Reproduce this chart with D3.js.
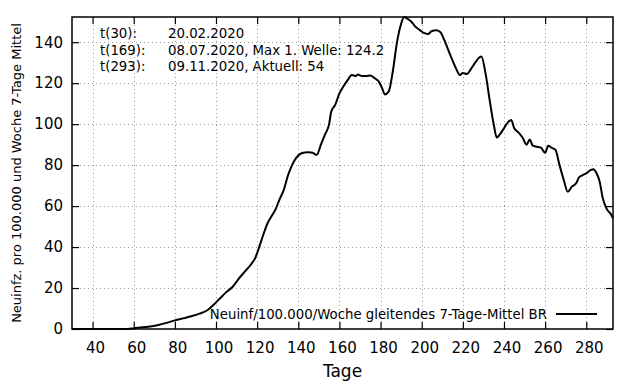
<!DOCTYPE html>
<html>
<head>
<meta charset="utf-8">
<script src="https://cdn.jsdelivr.net/npm/d3@7"></script>
<style>
  html, body { margin: 0; padding: 0; background: #fff; }
  svg { display: block; font-family: "DejaVu Sans", sans-serif; }
</style>
</head>
<body>
<div id="chart"></div>
<script>
// Tage (t) und Neuinfektionen pro 100.000/Woche, gleitendes 7-Tage-Mittel BR
const days = [30, 40, 50, 57, 60, 64, 68, 72, 76, 80, 84, 88, 92, 96, 99, 102, 105, 108, 111, 114,
  117, 119, 121, 123, 125, 127, 129, 131, 133, 135, 137, 139, 141, 143, 145, 147, 149, 151, 153, 155,
  156, 158, 160, 162, 164, 166, 168, 169, 171, 173, 175, 177, 179, 181, 182, 184, 186, 188, 190, 191.5,
  193, 195, 197, 199, 201, 203, 205, 207, 209, 211, 213, 215, 217, 218.5, 220, 222, 224, 226, 228, 229,
  231, 233, 235, 236.5, 238, 240, 242, 243.5, 245, 247, 249, 251, 252.5, 254, 256, 258, 260, 261.5, 263, 265,
  267, 269, 271, 273, 275, 276.5, 278, 280, 282, 283.5, 285, 286.5, 288, 290, 292, 293];
const incidence = [0, 0, 0, 0, 0.3, 0.8, 1.2, 2, 3, 4.2, 5.2, 6.2, 7.5, 9.3, 12, 15, 18, 20.5, 24.5, 28,
  31.5, 34.5, 40, 46, 51.5, 55, 58.5, 63.5, 68, 75, 80, 83.5, 85.5, 86.2, 86.3, 86, 85, 90, 95, 100,
  106, 109.5, 115, 118.5, 121.5, 124, 123.5, 124.2, 123.5, 123.5, 123.8, 122.5, 121, 117, 114.5, 116, 126, 140, 149, 152.3,
  151.5, 150, 147.5, 146, 144.5, 144, 145.5, 145.8, 145, 141, 136, 131, 126.5, 124, 125, 124.5, 127, 130, 132.5, 133,
  125, 112, 100, 93.5, 95, 98, 101, 102, 98, 96, 93.5, 90, 92.5, 89.5, 89, 88.5, 86, 89.5, 88.5, 87.5,
  80, 73, 67, 69.5, 71, 74, 75, 76, 77.5, 78, 76, 72, 64, 58.5, 56, 54];

const xTicks = [40, 60, 80, 100, 120, 140, 160, 180, 200, 220, 240, 260, 280];
const yTicks = [0, 20, 40, 60, 80, 100, 120, 140];

const noteLabels = ["t(30):", "t(169):", "t(293):"];
const noteTexts = ["20.02.2020", "08.07.2020, Max 1. Welle: 124.2", "09.11.2020, Aktuell: 54"];

const seriesName = "Neuinf/100.000/Woche gleitendes 7-Tage-Mittel BR";
const xTitle = "Tage";
const yTitle = "Neuinfz. pro 100.000 und Woche 7-Tage Mittel";

const W = 640, H = 384;
const mLeft = 72, mRight = 613, mTop = 17, mBottom = 329;

const svg = d3.select("#chart").append("svg")
  .attr("width", W)
  .attr("height", H);

const x = d3.scaleLinear().domain([30, 293]).range([mLeft, mRight]);
const y = d3.scaleLinear().domain([0, 152.3]).range([mBottom, mTop]);

// Gitter (gepunktet)
const grid = svg.append("g").attr("stroke", "#a0a0a0").attr("stroke-width", 1)
  .attr("stroke-dasharray", "1,3");
grid.selectAll(".gx").data(xTicks).enter().append("line")
  .attr("x1", d => Math.round(x(d)) + 0.5).attr("x2", d => Math.round(x(d)) + 0.5)
  .attr("y1", mTop).attr("y2", mBottom);
grid.selectAll(".gy").data(yTicks.filter(d => d > 0)).enter().append("line")
  .attr("x1", mLeft).attr("x2", mRight)
  .attr("y1", d => Math.round(y(d)) + 0.5).attr("y2", d => Math.round(y(d)) + 0.5);

// Achsen mit Ticks nach innen (auch gespiegelt)
const tickLen = 7;
const xAxisB = d3.axisBottom(x).tickValues(xTicks).tickSize(-tickLen).tickPadding(13).tickFormat(d3.format("d"));
const xAxisT = d3.axisTop(x).tickValues(xTicks).tickSize(-tickLen).tickFormat("");
const yAxisL = d3.axisLeft(y).tickValues(yTicks).tickSize(-tickLen).tickPadding(9).tickFormat(d3.format("d"));
const yAxisR = d3.axisRight(y).tickValues(yTicks).tickSize(-tickLen).tickFormat("");

function styleAxis(g) {
  g.select(".domain").remove();
  g.selectAll(".tick line").attr("stroke", "#000").attr("stroke-width", 1.2);
  g.selectAll("text").attr("fill", "#000").style("font-size", "15px")
    .style("font-family", "DejaVu Sans, sans-serif");
}

svg.append("g").attr("transform", `translate(0,${mBottom})`).call(xAxisB).call(styleAxis)
  .selectAll("text").attr("dx", 2.5);
svg.append("g").attr("transform", `translate(0,${mTop})`).call(xAxisT).call(styleAxis);
svg.append("g").attr("transform", `translate(${mLeft},0)`).call(yAxisL).call(styleAxis);
svg.append("g").attr("transform", `translate(${mRight},0)`).call(yAxisR).call(styleAxis);

// Rahmen
svg.append("rect")
  .attr("x", mLeft).attr("y", mTop)
  .attr("width", mRight - mLeft).attr("height", mBottom - mTop)
  .attr("fill", "none").attr("stroke", "#000").attr("stroke-width", 1.5);

// Kurve
const pts = days.map((d, i) => [d, incidence[i]]);
svg.append("path")
  .datum(pts)
  .attr("fill", "none")
  .attr("stroke", "#000")
  .attr("stroke-width", 2)
  .attr("stroke-linejoin", "round")
  .attr("d", d3.line().x(d => x(d[0])).y(d => y(d[1])).curve(d3.curveMonotoneX));

// Anmerkungen oben links
const notes = svg.append("g").style("font-size", "13.3px").attr("fill", "#000");
noteLabels.forEach((lab, i) => {
  notes.append("text").attr("x", 100).attr("y", 38 + i * 16.7).text(lab);
  notes.append("text").attr("x", 168).attr("y", 38 + i * 16.7).text(noteTexts[i]);
});

// Legende
svg.append("text")
  .attr("x", 547).attr("y", 314).attr("dy", "0.35em")
  .attr("text-anchor", "end")
  .style("font-size", "13.3px")
  .text(seriesName);
svg.append("line")
  .attr("x1", 556).attr("x2", 597).attr("y1", 314).attr("y2", 314)
  .attr("stroke", "#000").attr("stroke-width", 2);

// Achsentitel
svg.append("text")
  .attr("x", (mLeft + mRight) / 2).attr("y", 377)
  .attr("text-anchor", "middle")
  .style("font-size", "17px")
  .text(xTitle);
svg.append("text")
  .attr("transform", `translate(20.5,${(mTop + mBottom) / 2}) rotate(-90)`)
  .attr("text-anchor", "middle")
  .style("font-size", "13px")
  .text(yTitle);
</script>
</body>
</html>
